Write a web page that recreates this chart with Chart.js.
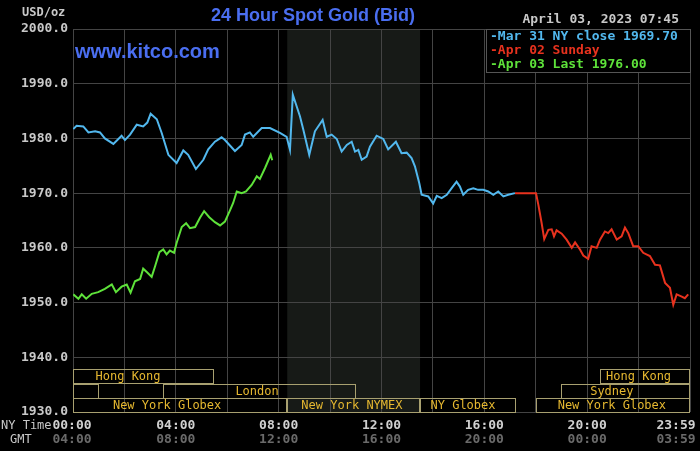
<!DOCTYPE html>
<html>
<head>
<meta charset="utf-8">
<script src="https://cdn.jsdelivr.net/npm/chart.js@4"></script>
<style>
  html, body { margin: 0; padding: 0; background: #000; }
  #wrap { width: 700px; height: 451px; position: relative; }
</style>
</head>
<body>
<div id="wrap"><canvas id="gold"></canvas></div>
<script>
// hours (NY time) and bid prices
const mar31Hours = [0.01,0.14,0.40,0.60,0.86,1.05,1.24,1.57,1.89,2.02,2.22,2.48,2.73,2.89,3.02,3.26,3.45,3.71,4.03,4.29,4.48,4.78,5.07,5.26,5.52,5.78,5.91,6.30,6.56,6.69,6.88,7.01,7.34,7.66,8.05,8.31,8.44,8.55,8.67,8.83,8.96,9.19,9.41,9.71,9.87,10.06,10.26,10.45,10.65,10.84,10.97,11.10,11.23,11.42,11.55,11.81,12.07,12.26,12.56,12.78,12.98,13.17,13.30,13.47,13.56,13.82,14.01,14.15,14.34,14.54,14.73,14.92,15.05,15.18,15.37,15.57,15.76,15.96,16.15,16.35,16.54,16.74,16.93,17.19];
const mar31Values = [1981.7,1982.3,1982.2,1981.1,1981.3,1981.1,1980.0,1979.0,1980.5,1979.7,1980.7,1982.5,1982.2,1982.9,1984.5,1983.5,1981.0,1977.0,1975.5,1977.8,1977.0,1974.4,1976.1,1978.0,1979.4,1980.2,1979.7,1977.7,1978.8,1980.7,1981.1,1980.3,1981.9,1981.9,1981.0,1980.3,1977.9,1988.0,1986.3,1984.0,1981.6,1977.0,1981.3,1983.4,1980.3,1980.7,1979.9,1977.6,1978.8,1979.4,1977.6,1977.9,1976.1,1976.7,1978.5,1980.5,1979.9,1978.0,1979.4,1977.3,1977.4,1976.4,1974.9,1971.8,1969.7,1969.4,1968.1,1969.5,1969.1,1969.7,1970.9,1972.1,1971.2,1969.7,1970.6,1970.9,1970.6,1970.6,1970.3,1969.7,1970.3,1969.4,1969.7,1970.0];

const apr02Hours = [17.19,18.01,18.10,18.23,18.33,18.49,18.62,18.71,18.81,19.01,19.20,19.40,19.53,19.72,19.85,20.04,20.17,20.37,20.50,20.69,20.82,20.95,21.15,21.34,21.47,21.60,21.79,21.99,22.18,22.44,22.64,22.83,23.03,23.22,23.35,23.48,23.68,23.80,23.93];
const apr02Values = [1970.0,1970.0,1967.9,1964.5,1961.6,1963.3,1963.4,1962.1,1963.2,1962.6,1961.5,1960.0,1961.0,1959.7,1958.6,1958.0,1960.3,1960.0,1961.5,1963.0,1962.7,1963.4,1961.5,1962.1,1963.7,1962.7,1960.3,1960.3,1959.1,1958.5,1956.9,1956.8,1953.6,1952.7,1949.6,1951.5,1951.1,1950.8,1951.5];

const apr03Hours = [0.01,0.21,0.34,0.51,0.73,0.98,1.24,1.51,1.67,1.89,2.09,2.24,2.41,2.61,2.73,2.89,3.06,3.19,3.36,3.51,3.64,3.77,3.93,4.03,4.23,4.40,4.55,4.75,4.94,5.10,5.30,5.52,5.72,5.91,6.11,6.23,6.37,6.56,6.73,6.95,7.15,7.27,7.47,7.69,7.75];
const apr03Values = [1951.5,1950.7,1951.5,1950.7,1951.6,1951.9,1952.5,1953.3,1951.9,1952.9,1953.3,1951.8,1953.9,1954.3,1956.2,1955.5,1954.7,1956.6,1959.2,1959.7,1958.8,1959.5,1959.1,1960.9,1963.8,1964.5,1963.6,1963.8,1965.5,1966.7,1965.6,1964.7,1964.1,1964.8,1966.9,1968.2,1970.3,1970.0,1970.3,1971.5,1973.1,1972.6,1974.6,1977.0,1976.0];

const legendLabels = ['Mar 31 NY close 1969.70', 'Apr 02 Sunday', 'Apr 03 Last 1976.00'];
const xLabelHours = [0, 4, 8, 12, 16, 20, 24];
const nyLabels = ['00:00', '04:00', '08:00', '12:00', '16:00', '20:00', '23:59'];
const gmtLabels = ['04:00', '08:00', '12:00', '16:00', '20:00', '00:00', '03:59'];

// trading sessions along the bottom
const sessionNames = ['Hong Kong', '', 'London', 'New York Globex', 'New York NYMEX', 'NY Globex', 'New York Globex', 'Sydney', 'Hong Kong'];
const sessionRows = [0, 1, 1, 2, 2, 2, 2, 1, 0];
const sessionStart = [0, 0, 3.5, 0, 8.333, 13.5, 18, 19, 20.5];
const sessionEnd = [5.5, 1, 11, 8.333, 13.5, 17.25, 24, 24, 24];
const sessionLabelAt = [2.14, 0, 7.16, 3.66, 10.85, 15.17, 20.96, 20.96, 22.0];
const nymexShade = [8.333, 13.5];

const MONO = '"DejaVu Sans Mono", monospace';

function toPoints(hours, values) {
  return hours.map((h, i) => ({ x: h, y: values[i] }));
}

const kitcoDecor = {
  id: 'kitcoDecor',
  beforeDraw(chart) {
    const { ctx, chartArea: a, scales: { x } } = chart;
    ctx.save();
    ctx.fillStyle = '#000';
    ctx.fillRect(0, 0, chart.width, chart.height);
    ctx.fillStyle = '#171a17';
    const x0 = x.getPixelForValue(nymexShade[0]);
    const x1 = x.getPixelForValue(nymexShade[1]);
    ctx.fillRect(x0, a.top, x1 - x0, a.bottom - a.top);
    ctx.restore();
  },
  afterDraw(chart) {
    const { ctx, chartArea: a, scales: { x } } = chart;
    ctx.save();
    ctx.textBaseline = 'middle';

    // titles
    ctx.fillStyle = '#4a6ef0';
    ctx.font = 'bold 18px "Liberation Sans", Arial, sans-serif';
    ctx.textAlign = 'center';
    ctx.fillText('24 Hour Spot Gold (Bid)', 313, 16);
    ctx.font = 'bold 20px "Liberation Sans", Arial, sans-serif';
    ctx.textAlign = 'left';
    ctx.fillText('www.kitco.com', 75, 52);

    ctx.fillStyle = '#c8c8c8';
    ctx.font = 'bold 12px ' + MONO;
    ctx.fillText('USD/oz', 22, 13);
    ctx.font = 'bold 13px ' + MONO;
    ctx.textAlign = 'right';
    ctx.fillText('April 03, 2023 07:45', 679, 20);

    // legend box
    ctx.fillStyle = '#000';
    ctx.fillRect(486, a.top, a.right - 486, 43);
    ctx.strokeStyle = '#555';
    ctx.lineWidth = 1;
    ctx.strokeRect(486.5, a.top + 0.5, a.right - 486, 43);
    ctx.textAlign = 'left';
    ctx.font = 'bold 13px ' + MONO;
    chart.data.datasets.forEach((ds, i) => {
      ctx.fillStyle = ds.borderColor;
      ctx.fillText('-' + legendLabels[i], 490, a.top + 8 + i * 14);
    });

    // sessions
    const rowTop = [a.bottom - 43, a.bottom - 28.5, a.bottom - 14];
    ctx.strokeStyle = '#a8a070';
    ctx.font = '12px ' + MONO;
    sessionNames.forEach((name, i) => {
      const sx = x.getPixelForValue(sessionStart[i]);
      const ex = x.getPixelForValue(sessionEnd[i]);
      const top = rowTop[sessionRows[i]];
      ctx.strokeRect(Math.round(sx) + 0.5, Math.round(top) + 0.5, Math.round(ex - sx) - 1, 14);
      if (name) {
        ctx.fillStyle = '#e6b830';
        ctx.textAlign = 'center';
        ctx.fillText(name, x.getPixelForValue(sessionLabelAt[i]), top + 8);
      }
    });

    // time axis
    ctx.font = '12px ' + MONO;
    ctx.fillStyle = '#c8c8c8';
    ctx.textAlign = 'left';
    ctx.fillText('NY Time', 1, 426);
    ctx.fillText('GMT', 10, 440);
    ctx.font = 'bold 13px ' + MONO;
    xLabelHours.forEach((h, i) => {
      let px = x.getPixelForValue(h);
      if (i === xLabelHours.length - 1) px = 676;
      if (i === 0) px = 72;
      ctx.textAlign = 'center';
      ctx.fillStyle = '#d0d0d0';
      ctx.fillText(nyLabels[i], px, 426);
      ctx.fillStyle = '#6a6a6a';
      ctx.fillText(gmtLabels[i], px, 440);
    });
    ctx.restore();
  }
};

new Chart(document.getElementById('gold'), {
  type: 'line',
  data: {
    datasets: [
      { label: legendLabels[0], data: toPoints(mar31Hours, mar31Values), borderColor: '#52b8ee' },
      { label: legendLabels[1], data: toPoints(apr02Hours, apr02Values), borderColor: '#e8321e' },
      { label: legendLabels[2], data: toPoints(apr03Hours, apr03Values), borderColor: '#5ee23a' }
    ].map(d => Object.assign(d, { borderWidth: 2, pointRadius: 0, tension: 0, fill: false }))
  },
  options: {
    responsive: true,
    maintainAspectRatio: false,
    animation: false,
    layout: { padding: { top: 29, right: 10, left: 0, bottom: 0 } },
    plugins: { legend: { display: false }, tooltip: { enabled: false } },
    scales: {
      x: {
        type: 'linear', min: 0, max: 24,
        afterFit: s => { s.height = 39; },
        ticks: { display: false, stepSize: 2 },
        grid: { color: '#444', drawTicks: false },
        border: { display: false }
      },
      y: {
        min: 1930, max: 2000,
        afterFit: s => { s.width = 73; },
        ticks: {
          stepSize: 10, padding: 5, color: '#c8c8c8',
          font: { family: 'DejaVu Sans Mono', weight: 'bold', size: 13 },
          callback: v => v.toFixed(1)
        },
        grid: { color: '#444', drawTicks: false },
        border: { display: false }
      }
    }
  },
  plugins: [kitcoDecor]
});
</script>
</body>
</html>
